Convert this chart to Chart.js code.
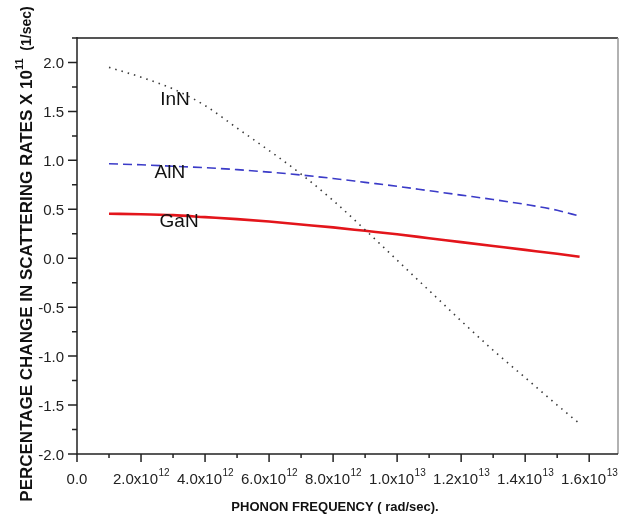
<!DOCTYPE html>
<html>
<head>
<meta charset="utf-8">
<script src="https://cdn.jsdelivr.net/npm/chart.js@4.4.1/dist/chart.umd.min.js"></script>
<style>
  html, body { margin: 0; padding: 0; background: #fff; }
  #wrap { width: 619px; height: 517px; position: relative; }
</style>
</head>
<body>
<div id="wrap"><canvas id="chart" width="619" height="517"></canvas></div>
<script>
// phonon frequency (rad/sec) and percentage change in scattering rates (x 1e11 1/sec)
const FREQ = [1e12, 2e12, 3e12, 4e12, 5e12, 6e12, 7e12, 8e12, 9e12, 1e13, 1.1e13, 1.2e13, 1.3e13, 1.4e13, 1.5e13, 1.57e13];
const INN  = [1.95, 1.85, 1.73, 1.56, 1.33, 1.10, 0.86, 0.59, 0.29, -0.02, -0.33, -0.64, -0.94, -1.22, -1.50, -1.69];
const ALN  = [0.965, 0.955, 0.94, 0.925, 0.905, 0.88, 0.85, 0.815, 0.775, 0.735, 0.69, 0.645, 0.60, 0.55, 0.49, 0.43];
const GAN  = [0.455, 0.45, 0.44, 0.42, 0.40, 0.375, 0.345, 0.315, 0.28, 0.245, 0.205, 0.165, 0.125, 0.085, 0.045, 0.015];

const X_TICKS = [0, 2e12, 4e12, 6e12, 8e12, 1e13, 1.2e13, 1.4e13, 1.6e13];
const X_MANT  = ['0.0', '2.0x10', '4.0x10', '6.0x10', '8.0x10', '1.0x10', '1.2x10', '1.4x10', '1.6x10'];
const X_EXP   = ['', '12', '12', '12', '12', '13', '13', '13', '13'];
const Y_TICKS = [-2, -1.5, -1, -0.5, 0, 0.5, 1, 1.5, 2];
const Y_LABELS = ['-2.0', '-1.5', '-1.0', '-0.5', '0.0', '0.5', '1.0', '1.5', '2.0'];

// curve name tags, placed in data space
const TAGS = ['InN', 'AlN', 'GaN'];
const TAG_X = [3.06e12, 2.9e12, 3.19e12];
const TAG_Y = [1.62, 0.875, 0.37];

const pts = ys => FREQ.map((f, i) => ({ x: f, y: ys[i] }));

const FONT = '"Liberation Sans", Arial, sans-serif';

const decor = {
  id: 'decor',
  afterDraw(chart) {
    const ctx = chart.ctx;
    const a = chart.chartArea;
    const xs = chart.scales.x, ys = chart.scales.y;
    ctx.save();

    // frame
    ctx.strokeStyle = '#555';
    ctx.lineWidth = 2;
    ctx.beginPath();
    ctx.moveTo(a.left, a.top); ctx.lineTo(a.right, a.top);
    ctx.stroke();
    ctx.strokeStyle = '#999';
    ctx.lineWidth = 1.5;
    ctx.beginPath();
    ctx.moveTo(a.right, a.top); ctx.lineTo(a.right, a.bottom);
    ctx.stroke();
    ctx.strokeStyle = '#222';
    ctx.lineWidth = 1.5;
    ctx.beginPath();
    ctx.moveTo(a.left, a.top - 1); ctx.lineTo(a.left, a.bottom);
    ctx.lineTo(a.right, a.bottom);
    ctx.stroke();

    // ticks: majors from the label arrays, minors halfway between
    ctx.lineWidth = 1.5;
    ctx.beginPath();
    X_TICKS.forEach((v, i) => {
      const px = xs.getPixelForValue(v);
      ctx.moveTo(px, a.bottom); ctx.lineTo(px, a.bottom + 8);
      const mid = v + 1e12;
      if (mid <= xs.max) {
        const pm = xs.getPixelForValue(mid);
        ctx.moveTo(pm, a.bottom); ctx.lineTo(pm, a.bottom + 4);
      }
    });
    Y_TICKS.forEach(v => {
      const py = ys.getPixelForValue(v);
      ctx.moveTo(a.left, py); ctx.lineTo(a.left - 9, py);
      const mid = v + 0.25;
      if (mid <= ys.max) {
        const pm = ys.getPixelForValue(mid);
        ctx.moveTo(a.left, pm); ctx.lineTo(a.left - 5, pm);
      }
    });
    ctx.stroke();

    // x tick labels with superscript exponent
    ctx.fillStyle = '#222';
    ctx.textBaseline = 'alphabetic';
    X_TICKS.forEach((v, i) => {
      const px = xs.getPixelForValue(v);
      ctx.font = '15px ' + FONT;
      const w1 = ctx.measureText(X_MANT[i]).width;
      ctx.font = '10px ' + FONT;
      const w2 = X_EXP[i] ? ctx.measureText(X_EXP[i]).width : 0;
      const x0 = px - (w1 + w2) / 2;
      ctx.font = '15px ' + FONT;
      ctx.textAlign = 'left';
      ctx.fillText(X_MANT[i], x0, a.bottom + 30);
      if (X_EXP[i]) {
        ctx.font = '10px ' + FONT;
        ctx.fillText(X_EXP[i], x0 + w1 + 0.5, a.bottom + 22);
      }
    });

    // y tick labels
    ctx.font = '15px ' + FONT;
    ctx.textAlign = 'right';
    Y_TICKS.forEach((v, i) => {
      ctx.fillText(Y_LABELS[i], a.left - 13, ys.getPixelForValue(v) + 5.5);
    });

    // curve tags
    ctx.font = '19px ' + FONT;
    ctx.textAlign = 'center';
    ctx.textBaseline = 'middle';
    ctx.fillStyle = '#111';
    TAGS.forEach((t, i) => {
      ctx.fillText(t, xs.getPixelForValue(TAG_X[i]), ys.getPixelForValue(TAG_Y[i]));
    });

    // x axis title
    ctx.font = 'bold 13px ' + FONT;
    ctx.textAlign = 'center';
    ctx.textBaseline = 'alphabetic';
    ctx.fillText('PHONON FREQUENCY ( rad/sec).', 335, 511);

    // y axis title, rotated, with superscript
    ctx.translate(26, 254);
    ctx.rotate(-Math.PI / 2);
    const parts = [
      { t: 'PERCENTAGE CHANGE IN SCATTERING RATES X 10', f: 'bold 17px ', dy: 6 },
      { t: '11', f: 'bold 11px ', dy: -3 },
      { t: '  (1/sec)', f: 'bold 14px ', dy: 5 }
    ];
    let total = 0;
    parts.forEach(p => { ctx.font = p.f + FONT; p.w = ctx.measureText(p.t).width; total += p.w; });
    let x = -total / 2;
    ctx.textAlign = 'left';
    parts.forEach(p => {
      ctx.font = p.f + FONT;
      ctx.fillText(p.t, x, p.dy);
      x += p.w;
    });
    ctx.restore();
  }
};

new Chart(document.getElementById('chart'), {
  type: 'line',
  data: {
    datasets: [
      {
        label: 'InN', data: pts(INN),
        borderColor: '#3a3a3a', borderWidth: 1.6, borderDash: [1.5, 5],
        pointRadius: 0, cubicInterpolationMode: 'monotone', fill: false
      },
      {
        label: 'AlN', data: pts(ALN),
        borderColor: '#3b3bc8', borderWidth: 1.6, borderDash: [9, 5],
        pointRadius: 0, cubicInterpolationMode: 'monotone', fill: false
      },
      {
        label: 'GaN', data: pts(GAN),
        borderColor: '#e3151b', borderWidth: 2.6,
        pointRadius: 0, cubicInterpolationMode: 'monotone', fill: false
      }
    ]
  },
  options: {
    responsive: false,
    animation: false,
    layout: { padding: { top: 38, right: 1, left: 0, bottom: 0 } },
    plugins: { legend: { display: false }, tooltip: { enabled: false } },
    scales: {
      x: {
        type: 'linear', min: 0, max: 1.69e13,
        ticks: { display: false }, grid: { display: false }, border: { display: false },
        afterFit(s) { s.height = 63; }
      },
      y: {
        type: 'linear', min: -2, max: 2.25,
        ticks: { display: false }, grid: { display: false }, border: { display: false },
        afterFit(s) { s.width = 77; }
      }
    }
  },
  plugins: [decor]
});
</script>
</body>
</html>
